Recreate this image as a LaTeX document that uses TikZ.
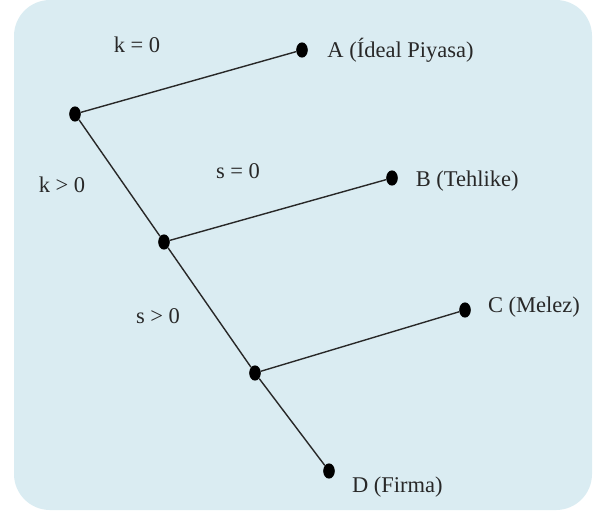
\documentclass[tikz,border=0pt]{standalone}
\usepackage{fontspec}
\setmainfont{Liberation Serif}
\usetikzlibrary{shapes.geometric, positioning}
\definecolor{paleblue}{RGB}{218,236,242}
\definecolor{inkgray}{RGB}{40,40,40}

\begin{document}
\begin{tikzpicture}[
  x=0.25mm, y=-0.25mm,
  dot/.style={ellipse, fill=black, inner sep=0pt, minimum width=2.9mm, minimum height=3.8mm},
  branch/.style={line width=1pt, color=inkgray},
  leaf/.style={font=\fontsize{16}{19}\selectfont, text=inkgray},
  cond/.style={font=\fontsize{16}{19}\selectfont, text=inkgray}
]
\useasboundingbox (0,0) rectangle (595,511);
\fill[paleblue, rounded corners=9mm] (14,0) rectangle (592,510);

% --- decision points ---
\node[dot] (n1) at (75,114) {};
\node[dot] (n2) at (164,242) {};
\node[dot] (n3) at (255,373) {};

% --- outcomes ---
\node[dot] (a) at (302,50) {};
\node[dot] (b) at (392,178) {};
\node[dot] (c) at (465,310) {};
\node[dot] (d) at (329,471) {};

\node[leaf, right=3.6mm of a] (alab) {A (Ídeal Piyasa)};
\node[leaf, right=3.2mm of b, yshift=-0.7mm] (blab) {B (Tehlike)};
\node[leaf, right=3.0mm of c, yshift=0.7mm] (clab) {C (Melez)};
\node[leaf, right=3.0mm of d, yshift=-4mm] (dlab) {D (Firma)};

% --- branch conditions ---
\node[cond] (k0) at (137,45) {k = 0};
\node[cond] (kpos) at (62,185) {k > 0};
\node[cond] (s0) at (238,171) {s = 0};
\node[cond] (spos) at (158,316) {s > 0};

% --- branches ---
\draw[branch] (n1) -- (a);
\draw[branch] (n1) -- (n2);
\draw[branch] (n2) -- (b);
\draw[branch] (n2) -- (n3);
\draw[branch] (n3) -- (c);
\draw[branch] (n3) -- (d);

\end{tikzpicture}
\end{document}
